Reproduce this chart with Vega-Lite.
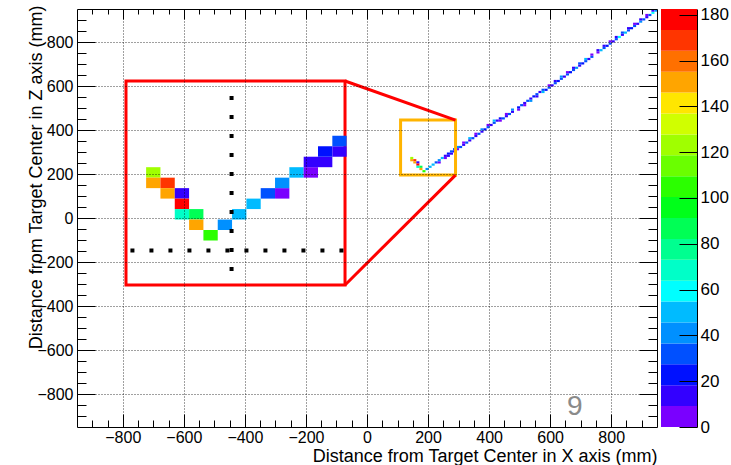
{
  "$schema": "https://vega.github.io/schema/vega-lite/v6.json",
  "autosize": {"type": "none"},
  "padding": {"left": 77, "top": 9, "right": 74, "bottom": 38},
  "width": 580,
  "height": 418,
  "config": {"font": "Liberation Sans", "view": {"stroke": null}},
  "datasets": {
    "cells": [
      {"x":140,"z":270,"v":122},{"x":140,"z":260,"v":150},{"x":150,"z":260,"v":168},{"x":150,"z":250,"v":150},
      {"x":160,"z":250,"v":13},{"x":160,"z":240,"v":178},{"x":160,"z":230,"v":68},{"x":170,"z":230,"v":87},
      {"x":170,"z":220,"v":150},{"x":180,"z":210,"v":104},{"x":190,"z":220,"v":40},{"x":200,"z":230,"v":50},
      {"x":210,"z":240,"v":50},{"x":220,"z":250,"v":31},{"x":230,"z":250,"v":5},{"x":230,"z":260,"v":40},
      {"x":240,"z":270,"v":50},{"x":250,"z":270,"v":5},{"x":250,"z":280,"v":13},{"x":260,"z":280,"v":13},
      {"x":260,"z":290,"v":22},{"x":270,"z":290,"v":13},{"x":270,"z":300,"v":31},
      {"x":280,"z":300,"v":13},{"x":280,"z":310,"v":31},{"x":290,"z":310,"v":5},{"x":290,"z":320,"v":40},
      {"x":300,"z":320,"v":31},{"x":310,"z":330,"v":13},{"x":310,"z":340,"v":5},{"x":320,"z":340,"v":31},
      {"x":330,"z":350,"v":13},{"x":330,"z":360,"v":50},{"x":340,"z":360,"v":31},{"x":350,"z":370,"v":13},
      {"x":350,"z":380,"v":5},{"x":360,"z":380,"v":31},{"x":370,"z":390,"v":13},{"x":370,"z":400,"v":40},
      {"x":380,"z":400,"v":22},{"x":390,"z":410,"v":31},{"x":390,"z":420,"v":5},{"x":400,"z":420,"v":13},
      {"x":410,"z":430,"v":31},{"x":410,"z":440,"v":50},{"x":420,"z":440,"v":13},{"x":430,"z":450,"v":22},
      {"x":430,"z":440,"v":5},{"x":440,"z":450,"v":31},{"x":450,"z":460,"v":13},{"x":450,"z":470,"v":5},
      {"x":460,"z":470,"v":31},{"x":470,"z":480,"v":13},{"x":470,"z":490,"v":40},
      {"x":490,"z":490,"v":5},{"x":490,"z":500,"v":22},{"x":500,"z":510,"v":31},{"x":510,"z":520,"v":13},
      {"x":510,"z":510,"v":5},{"x":520,"z":530,"v":31},{"x":530,"z":540,"v":13},{"x":530,"z":530,"v":40},
      {"x":540,"z":550,"v":22},{"x":550,"z":560,"v":31},{"x":550,"z":550,"v":13},{"x":560,"z":570,"v":13},
      {"x":570,"z":580,"v":31},{"x":570,"z":570,"v":50},{"x":580,"z":580,"v":22},{"x":590,"z":590,"v":31},
      {"x":590,"z":600,"v":5},{"x":600,"z":600,"v":13},{"x":610,"z":610,"v":31},{"x":610,"z":620,"v":13},
      {"x":620,"z":620,"v":22},{"x":630,"z":630,"v":31},{"x":630,"z":640,"v":40},{"x":640,"z":640,"v":13},
      {"x":650,"z":650,"v":31},{"x":650,"z":660,"v":5},{"x":660,"z":660,"v":22},{"x":670,"z":670,"v":31},
      {"x":670,"z":680,"v":13},{"x":680,"z":680,"v":40},{"x":690,"z":690,"v":13},{"x":690,"z":700,"v":31},
      {"x":700,"z":700,"v":22},{"x":710,"z":710,"v":31},{"x":710,"z":720,"v":50},{"x":720,"z":720,"v":13},
      {"x":730,"z":730,"v":31},{"x":730,"z":740,"v":5},
      {"x":750,"z":750,"v":5},{"x":750,"z":760,"v":13},{"x":760,"z":760,"v":50},{"x":770,"z":770,"v":31},
      {"x":770,"z":780,"v":13},{"x":780,"z":780,"v":22},{"x":790,"z":790,"v":31},{"x":790,"z":800,"v":5},
      {"x":800,"z":800,"v":13},{"x":810,"z":810,"v":31},{"x":810,"z":820,"v":13},{"x":820,"z":820,"v":55},
      {"x":830,"z":830,"v":13},{"x":830,"z":840,"v":31},{"x":840,"z":840,"v":50},{"x":850,"z":850,"v":31},
      {"x":850,"z":860,"v":13},{"x":860,"z":860,"v":22},{"x":870,"z":870,"v":31},{"x":870,"z":880,"v":5},
      {"x":880,"z":880,"v":13},{"x":890,"z":890,"v":40},{"x":890,"z":900,"v":13},{"x":900,"z":900,"v":31},
      {"x":910,"z":910,"v":13},{"x":910,"z":920,"v":5},{"x":920,"z":920,"v":31},{"x":930,"z":930,"v":55},
      {"x":930,"z":940,"v":13},{"x":940,"z":940,"v":40}
    ],
    "bands": [
      {"lo":0,"hi":9.125,"v":4.5},{"lo":9.125,"hi":18.25,"v":13.7},{"lo":18.25,"hi":27.375,"v":22.8},
      {"lo":27.375,"hi":36.5,"v":31.9},{"lo":36.5,"hi":45.625,"v":41},{"lo":45.625,"hi":54.75,"v":50.2},
      {"lo":54.75,"hi":63.875,"v":59.3},{"lo":63.875,"hi":73,"v":68.4},{"lo":73,"hi":82.125,"v":77.5},
      {"lo":82.125,"hi":91.25,"v":86.7},{"lo":91.25,"hi":100.375,"v":95.8},{"lo":100.375,"hi":109.5,"v":104.9},
      {"lo":109.5,"hi":118.625,"v":114},{"lo":118.625,"hi":127.75,"v":123.2},{"lo":127.75,"hi":136.875,"v":132.3},
      {"lo":136.875,"hi":146,"v":141.4},{"lo":146,"hi":155.125,"v":150.5},{"lo":155.125,"hi":164.25,"v":159.7},
      {"lo":164.25,"hi":173.375,"v":168.8},{"lo":173.375,"hi":182.5,"v":177.9}
    ]
  },
  "resolve": {"scale": {"x": "independent", "y": "independent"}},
  "layer": [
    {
      "data": {"name": "cells"},
      "mark": {"type": "rect"},
      "encoding": {
        "x": {"field": "x", "type": "quantitative", "bin": {"binned": true, "step": 10},
          "scale": {"domain": [-950, 950], "nice": false, "zero": false},
          "axis": {"orient": "bottom", "values": [-800,-600,-400,-200,0,200,400,600,800], "ticks": false,
            "labelPadding": 2, "labelFontSize": 16, "labelColor": "#000", "labelFlush": false, "labelOverlap": false,
            "domain": true, "domainColor": "#000", "domainWidth": 1,
            "grid": true, "gridColor": "#000", "gridDash": [1, 2], "gridOpacity": 0.75, "gridWidth": 1,
            "title": "Distance from Target Center in X axis (mm)", "titleFontSize": 18, "titleFontWeight": "normal",
            "titleColor": "#000", "titleAlign": "right", "titleAnchor": "end", "titleBaseline": "alphabetic",
            "titleX": 580, "titleY": 34}},
        "y": {"field": "z", "type": "quantitative", "bin": {"binned": true, "step": 10},
          "scale": {"domain": [-950, 950], "nice": false, "zero": false},
          "axis": {"orient": "left", "values": [-800,-600,-400,-200,0,200,400,600,800], "ticks": false,
            "labelPadding": 4, "labelFontSize": 16, "labelColor": "#000", "labelFlush": false, "labelOverlap": false,
            "domain": true, "domainColor": "#000", "domainWidth": 1,
            "grid": true, "gridColor": "#000", "gridDash": [1, 2], "gridOpacity": 0.75, "gridWidth": 1,
            "title": "Distance from Target Center in Z axis (mm)", "titleFontSize": 18, "titleFontWeight": "normal",
            "titleColor": "#000", "titleAngle": 270, "titleAlign": "right", "titleBaseline": "alphabetic",
            "titleX": -36, "titleY": -4}},
        "color": {"field": "v", "type": "quantitative", "legend": null,
          "scale": {"type": "quantize", "domain": [0, 182.5], "nice": false,
            "range": ["#7a00ff","#3300ff","#0011ff","#0050ff","#0090ff","#00bbff","#00ffff","#00ffc8","#00ff90","#00ff55","#00ff1a","#2bff00","#6aff00","#a0ff00","#d0ff00","#ffe600","#ffa500","#ff7000","#ff3500","#ff0000"]}}
      }
    },
    {
      "data": {"values": [{"x0": 110, "x1": 290, "z0": 195, "z1": 445}]},
      "mark": {"type": "rect", "fillOpacity": 0, "stroke": "#ffb400", "strokeWidth": 3},
      "encoding": {
        "x": {"field": "x0", "type": "quantitative", "scale": {"domain": [-950, 950], "nice": false, "zero": false},
          "axis": {"orient": "bottom", "values": [-800,-600,-400,-200,0,200,400,600,800], "labels": false, "domain": false,
            "grid": false, "tickSize": -13, "tickColor": "#000", "tickWidth": 1, "title": null, "zindex": 1}},
        "x2": {"field": "x1"},
        "y": {"field": "z0", "type": "quantitative", "scale": {"domain": [-950, 950], "nice": false, "zero": false},
          "axis": {"orient": "left", "values": [-800,-600,-400,-200,0,200,400,600,800], "labels": false, "domain": false,
            "grid": false, "tickSize": -18, "tickColor": "#000", "tickWidth": 1, "title": null, "zindex": 1}},
        "y2": {"field": "z1"}
      }
    },
    {
      "data": {"values": [{"x0": -789.5, "x1": -72, "z0": -304.5, "z1": 622.7}]},
      "mark": {"type": "rect", "fill": "#ffffff", "stroke": "#ff0000", "strokeWidth": 3},
      "encoding": {
        "x": {"field": "x0", "type": "quantitative", "scale": {"domain": [-950, 950], "nice": false, "zero": false},
          "axis": {"orient": "bottom", "values": [-900,-850,-750,-700,-650,-550,-500,-450,-350,-300,-250,-150,-100,-50,50,100,150,250,300,350,450,500,550,650,700,750,850,900],
            "labels": false, "domain": false, "grid": false, "tickSize": -7, "tickColor": "#000", "tickWidth": 1, "title": null, "zindex": 1}},
        "x2": {"field": "x1"},
        "y": {"field": "z0", "type": "quantitative", "scale": {"domain": [-950, 950], "nice": false, "zero": false},
          "axis": {"orient": "left", "values": [-900,-850,-750,-700,-650,-550,-500,-450,-350,-300,-250,-150,-100,-50,50,100,150,250,300,350,450,500,550,650,700,750,850,900],
            "labels": false, "domain": false, "grid": false, "tickSize": -9, "tickColor": "#000", "tickWidth": 1, "title": null, "zindex": 1}},
        "y2": {"field": "z1"}
      }
    },
    {
      "data": {"values": [{"x0": -72, "z0": 622.7, "x1": 290, "z1": 445}, {"x0": -72, "z0": -304.5, "x1": 290, "z1": 195}]},
      "mark": {"type": "rule", "color": "#ff0000", "strokeWidth": 3},
      "encoding": {
        "x": {"field": "x0", "type": "quantitative", "scale": {"domain": [-950, 950], "nice": false, "zero": false},
          "axis": {"orient": "top", "values": [-800,-600,-400,-200,0,200,400,600,800], "labels": false, "domain": true,
            "domainColor": "#000", "domainWidth": 1, "grid": false, "tickSize": -10, "tickColor": "#000", "tickWidth": 1, "title": null, "zindex": 1}},
        "x2": {"field": "x1"},
        "y": {"field": "z0", "type": "quantitative", "scale": {"domain": [-950, 950], "nice": false, "zero": false},
          "axis": {"orient": "right", "values": [-800,-600,-400,-200,0,200,400,600,800], "labels": false, "domain": true,
            "domainColor": "#000", "domainWidth": 1, "grid": false, "tickSize": -18, "tickColor": "#000", "tickWidth": 1, "title": null, "zindex": 1}},
        "y2": {"field": "z1"}
      }
    },
    {
      "data": {"values": [{"x": 681, "z": -859, "t": "9"}]},
      "mark": {"type": "text", "fontSize": 28, "color": "#8a8a8a", "baseline": "middle", "align": "center"},
      "encoding": {
        "text": {"field": "t"},
        "x": {"field": "x", "type": "quantitative", "scale": {"domain": [-950, 950], "nice": false, "zero": false},
          "axis": {"orient": "top", "values": [-900,-850,-750,-700,-650,-550,-500,-450,-350,-300,-250,-150,-100,-50,50,100,150,250,300,350,450,500,550,650,700,750,850,900],
            "labels": false, "domain": false, "grid": false, "tickSize": -5, "tickColor": "#000", "tickWidth": 1, "title": null, "zindex": 1}},
        "y": {"field": "z", "type": "quantitative", "scale": {"domain": [-950, 950], "nice": false, "zero": false},
          "axis": {"orient": "right", "values": [-900,-850,-750,-700,-650,-550,-500,-450,-350,-300,-250,-150,-100,-50,50,100,150,250,300,350,450,500,550,650,700,750,850,900],
            "labels": false, "domain": false, "grid": false, "tickSize": -9, "tickColor": "#000", "tickWidth": 1, "title": null, "zindex": 1}}
      }
    },
    {
      "data": {"name": "cells"},
      "transform": [{"filter": "datum.x >= 130 && datum.x < 280 && datum.z >= 170 && datum.z < 360"}],
      "mark": {"type": "rect"},
      "encoding": {
        "x": {"field": "x", "type": "quantitative", "bin": {"binned": true, "step": 10},
          "scale": {"domain": [92.1, 497.0], "nice": false, "zero": false}, "axis": null},
        "y": {"field": "z", "type": "quantitative", "bin": {"binned": true, "step": 10},
          "scale": {"domain": [31.4, 430.6], "nice": false, "zero": false}, "axis": null},
        "color": {"field": "v", "type": "quantitative", "legend": null,
          "scale": {"type": "quantize", "domain": [0, 182.5], "nice": false,
            "range": ["#7a00ff","#3300ff","#0011ff","#0050ff","#0090ff","#00bbff","#00ffff","#00ffc8","#00ff90","#00ff55","#00ff1a","#2bff00","#6aff00","#a0ff00","#d0ff00","#ffe600","#ffa500","#ff7000","#ff3500","#ff0000"]}}
      }
    },
    {
      "data": {"values": [{"x": 200, "zb": 167, "zt": 347.5}]},
      "mark": {"type": "rule", "color": "#000000", "strokeWidth": 4, "strokeDash": [4, 15]},
      "encoding": {
        "x": {"field": "x", "type": "quantitative", "scale": {"domain": [92.1, 497.0], "nice": false, "zero": false}, "axis": null},
        "y": {"field": "zt", "type": "quantitative", "scale": {"domain": [31.4, 430.6], "nice": false, "zero": false}, "axis": null},
        "y2": {"field": "zb"}
      }
    },
    {
      "data": {"values": [{"z": 200, "xl": 129.4, "xr": 279.5}]},
      "mark": {"type": "rule", "color": "#000000", "strokeWidth": 4, "strokeDash": [4, 15]},
      "encoding": {
        "x": {"field": "xl", "type": "quantitative", "scale": {"domain": [92.1, 497.0], "nice": false, "zero": false}, "axis": null},
        "x2": {"field": "xr"},
        "y": {"field": "z", "type": "quantitative", "scale": {"domain": [31.4, 430.6], "nice": false, "zero": false}, "axis": null}
      }
    },
    {
      "data": {"name": "bands"},
      "mark": {"type": "rect"},
      "encoding": {
        "x": {"datum": 0, "type": "quantitative", "scale": {"domain": [0, 1], "range": [584, 620], "nice": false, "zero": false}, "axis": null},
        "x2": {"datum": 1},
        "y": {"field": "lo", "type": "quantitative", "scale": {"domain": [0, 182.5], "nice": false, "zero": false},
          "axis": {"orient": "right", "offset": 40, "values": [0,20,40,60,80,100,120,140,160,180], "ticks": false, "labelPadding": 3,
            "labelFontSize": 17, "labelColor": "#000", "labelFlush": false, "labelOverlap": false, "domain": true,
            "domainColor": "#000", "domainWidth": 1, "grid": false, "title": null}},
        "y2": {"field": "hi"},
        "color": {"field": "v", "type": "quantitative", "legend": null,
          "scale": {"type": "quantize", "domain": [0, 182.5], "nice": false,
            "range": ["#7a00ff","#3300ff","#0011ff","#0050ff","#0090ff","#00bbff","#00ffff","#00ffc8","#00ff90","#00ff55","#00ff1a","#2bff00","#6aff00","#a0ff00","#d0ff00","#ffe600","#ffa500","#ff7000","#ff3500","#ff0000"]}}
      }
    },
    {
      "data": {"name": "bands"},
      "mark": {"type": "rect", "opacity": 0},
      "encoding": {
        "x": {"datum": 0, "type": "quantitative", "scale": {"domain": [0, 1], "range": [584, 620], "nice": false, "zero": false}, "axis": null},
        "x2": {"datum": 1},
        "y": {"field": "lo", "type": "quantitative", "scale": {"domain": [0, 182.5], "nice": false, "zero": false},
          "axis": {"orient": "right", "offset": 40, "values": [0,20,40,60,80,100,120,140,160,180], "labels": false, "domain": false,
            "tickSize": -18, "tickColor": "#000", "tickWidth": 1, "grid": false, "title": null, "zindex": 1}},
        "y2": {"field": "hi"}
      }
    }
  ]
}
